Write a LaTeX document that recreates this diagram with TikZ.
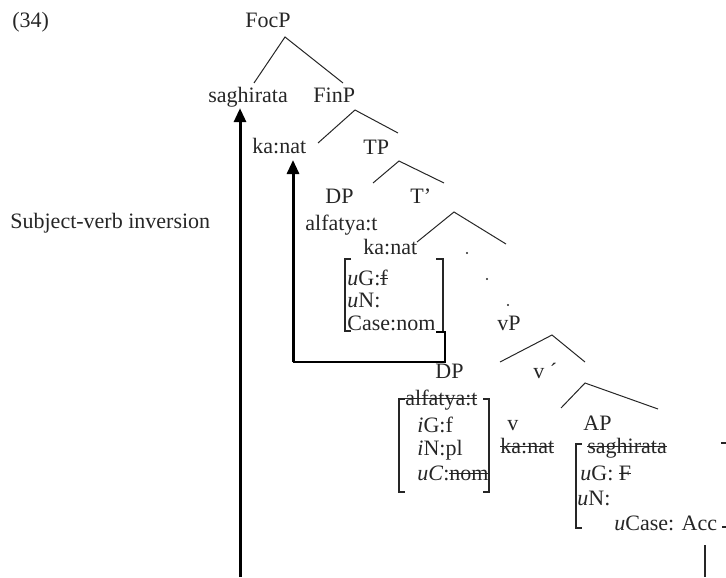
\documentclass[tikz,border=0pt]{standalone}
\usepackage{fontspec}
\setmainfont{Liberation Serif}
\usetikzlibrary{arrows.meta}
\definecolor{ink}{HTML}{262626}
\newsavebox\strkbox
\newcommand\strk[1]{\sbox\strkbox{#1}\makebox[0pt][l]{\usebox\strkbox}\rule[0.26em]{\wd\strkbox}{0.6pt}}
\begin{document}
\begin{tikzpicture}[x=0.5pt,y=-0.5pt,
  lab/.style={inner sep=0pt, anchor=base west, font=\fontsize{11}{13}\selectfont, text=ink},
  branch/.style={line width=0.5pt, draw=ink},
  brk/.style={line width=0.7pt, draw=ink},
  mvthin/.style={line width=1pt, draw=black},
  mv/.style={line width=1.5pt, draw=black, -{Triangle[width=6pt,length=7pt]}},
  dotm/.style={fill=ink, draw=none}]
\useasboundingbox (0,0) rectangle (726,577);
% labels
\node[lab] (n34) at (12,28) {(34)};
\node[lab] (focp) at (245,28) {FocP};
\node[lab] (sagh) at (208,103) {saghirata};
\node[lab] (finp) at (313,103) {FinP};
\node[lab] (kanat1) at (252,154) {ka:nat};
\node[lab] (tp) at (363,155) {TP};
\node[lab] (dp1) at (325,203) {DP};
\node[lab] (tbar) at (410,203) {T’};
\node[lab] (alf1) at (305,230) {alfatya:t};
\node[lab] (kanat2) at (363,254) {ka:nat};
\node[lab] (ug1) at (347,285) {\textit{u}G:\strk{f}};
\node[lab] (un1) at (347,307) {\textit{u}N:};
\node[lab] (case1) at (347,330) {Case:nom};
\node[lab] (vp) at (497,330) {vP};
\node[lab] (dp2) at (435,378) {DP};
\node[lab] (vbar) at (533,378) {v ´};
\node[lab] (alf2) at (405,405) {\strk{alfatya:t}};
\node[lab] (ig) at (417,432) {\textit{i}G:f};
\node[lab] (inl) at (417,455) {\textit{i}N:pl};
\node[lab] (uc) at (417,480) {\textit{uC}:\strk{nom}};
\node[lab] (vhead) at (507,430) {v};
\node[lab] (kanat3) at (500,453) {\strk{ka:nat}};
\node[lab] (ap) at (583,430) {AP};
\node[lab] (sagh2) at (587,453) {\strk{saghirata}};
\node[lab] (ug3) at (580,480) {\textit{u}G: \strk{F}};
\node[lab] (un3) at (577,505) {\textit{u}N:};
\node[lab] (ucase) at (614,530) {\textit{u}Case: Acc};
\node[lab] (svi) at (10,228) {Subject-verb inversion};
% tree branches
\draw[branch] (254,83) -- (285,37) -- (343,83);
\draw[branch] (318,143) -- (355,110) -- (398,133);
\draw[branch] (373,183) -- (399,161) -- (444,183);
\draw[branch] (417,242) -- (454,212) -- (506,244);
\draw[branch] (500,362) -- (552,335) -- (585,362);
\draw[branch] (561,408) -- (585,383) -- (658,409);
% dots
\fill[dotm] (467,253) circle (1.2);
\fill[dotm] (487,279) circle (1.2);
\fill[dotm] (508,305) circle (1.2);
% brackets
\draw[brk] (351,259) -- (345,259) -- (345,331) -- (351,331);
\draw[brk] (436,259) -- (443,259) -- (443,332);
\draw[brk] (405,399) -- (399,399) -- (399,492) -- (405,492);
\draw[brk] (483,399) -- (489,399) -- (489,492) -- (483,492);
\draw[brk] (582,444) -- (576,444) -- (576,528) -- (582,528);
\draw[brk] (721,443) -- (726,443);
\draw[brk] (722,527) -- (726,527);
\draw[line width=0.6pt, draw=ink] (705,545) -- (705,577);
% movement arrows
\coordinate (a1) at (240,577);
\draw[mv] (a1) -- (a1 |- sagh.south);
\coordinate (a2s) at (436,332);
\coordinate (a2c) at (445,362);
\coordinate (a2t) at (293,362);
\coordinate (a2e) at (293,160);
\draw[mvthin] (a2s) -- (a2s -| a2c) -- (a2c) -- (a2t);
\draw[mv] (a2t) -- (a2e);
\end{tikzpicture}
\end{document}
